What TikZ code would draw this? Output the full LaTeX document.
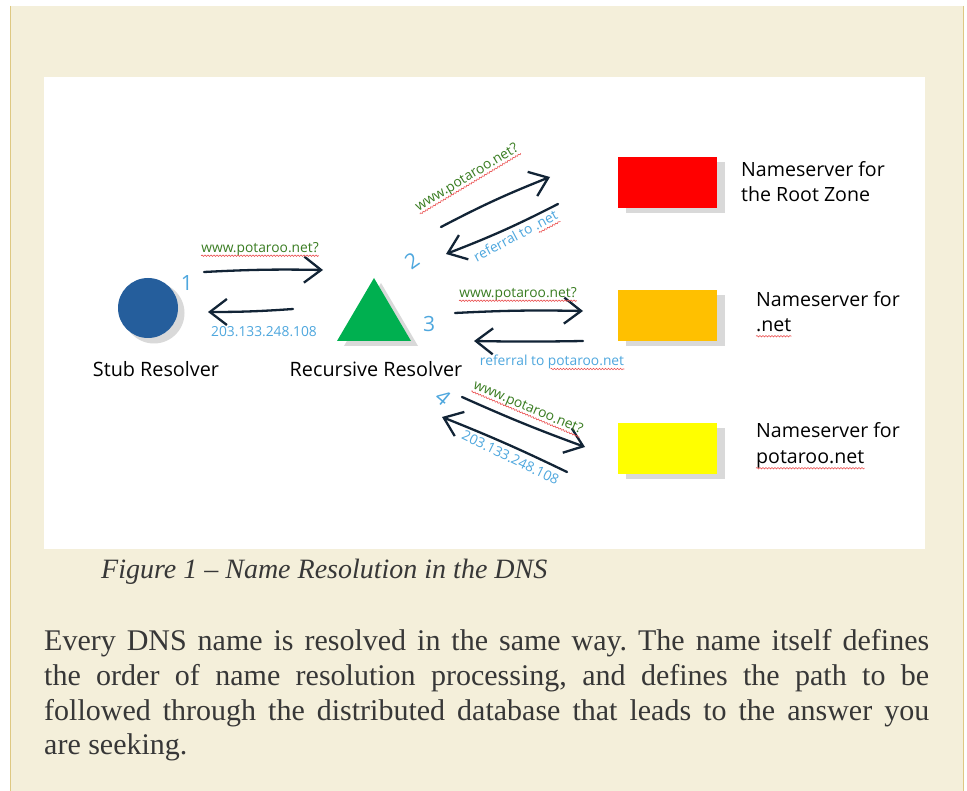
\documentclass[tikz,border=0pt]{standalone}
\usepackage{fontspec}
\usetikzlibrary{arrows.meta,decorations.pathmorphing,calc}
\setmainfont{Liberation Serif}
\newfontfamily\dsans{Open Sans}
\frenchspacing
\definecolor{beige}{RGB}{244,239,218}
\definecolor{goldline}{RGB}{222,200,130}
\definecolor{circblue}{RGB}{37,94,156}
\definecolor{trigreen}{RGB}{0,176,80}
\definecolor{boxred}{RGB}{255,0,0}
\definecolor{boxorange}{RGB}{255,192,0}
\definecolor{boxyellow}{RGB}{255,255,0}
\definecolor{shadowgrey}{RGB}{217,217,217}
\definecolor{arrowc}{RGB}{18,36,54}
\definecolor{qgreen}{RGB}{58,125,34}
\definecolor{ablue}{RGB}{78,167,222}
\definecolor{squigc}{RGB}{235,80,80}
\definecolor{bodytext}{RGB}{55,55,55}
\tikzset{
  harrow/.style={draw=arrowc, line width=2.3pt, line cap=round,
    -{Straight Barb[length=17pt,width=26pt,line width=2.3pt]}},
  qlabel/.style={font=\dsans\fontsize{13.8}{15}\selectfont, text=qgreen, inner sep=0pt, text depth=3pt},
  alabel/.style={font=\dsans\fontsize{13.8}{15}\selectfont, text=ablue, inner sep=0pt, text depth=3pt},
  digit/.style={font=\dsans\fontsize{21}{24}\selectfont, text=ablue, inner sep=0pt},
  rolelabel/.style={font=\dsans\fontsize{19.6}{25}\selectfont, text=black, inner sep=0pt, anchor=base west, text depth=4pt},
  nodelabel/.style={font=\dsans\fontsize{19.8}{24}\selectfont, text=black, inner sep=0pt},
  nsbox/.style={minimum width=99pt, minimum height=51pt, inner sep=0pt, draw=none},
  squig/.style={draw=squigc, line width=0.6pt, decorate, decoration={snake, segment length=3pt, amplitude=0.7pt}},
  bodyline/.style={font=\fontsize{30}{35}\selectfont, text=bodytext, inner sep=0pt, anchor=base west}
}
\begin{document}
\begin{tikzpicture}[x=1pt,y=-1pt]
\useasboundingbox (0,0) rectangle (967,791);
% page background
\fill[beige] (10,6) rectangle (964,791);
\draw[goldline, line width=1.5pt] (10.5,6) -- (10.5,791);
\draw[goldline, line width=1.5pt] (963.5,6) -- (963.5,791);
\fill[white] (44,77) rectangle (925,549);

% stub resolver
\fill[shadowgrey] (154,313) circle (30.5);
\node[circle, fill=circblue, minimum size=60pt, inner sep=0pt] (stub) at (148,308) {};
\node[nodelabel] (stublbl) at (156,369) {Stub Resolver};
\node[digit] (d1) at (187,283) {1};

% recursive resolver
\fill[shadowgrey] (381,283) -- (418,346) -- (344,346) -- cycle;
\fill[trigreen] (374,278) -- (411,341) -- (337,341) -- cycle;
\coordinate (rec) at (374,320);
\node[nodelabel] (reclbl) at (376,369) {Recursive Resolver};

% name servers
\fill[shadowgrey] (626,162) rectangle (725,213);
\node[nsbox, fill=boxred, anchor=north west] (root) at (618,157) {};
\fill[shadowgrey] (626,295) rectangle (725,346);
\node[nsbox, fill=boxorange, anchor=north west] (net) at (618,290) {};
\fill[shadowgrey] (626,428) rectangle (725,479);
\node[nsbox, fill=boxyellow, anchor=north west] (pot) at (618,423) {};

\node[rolelabel] (rootl1) at (741,177) {Nameserver for};
\node[rolelabel] (rootl2) at (741,202) {the Root Zone};
\node[rolelabel] (netl1) at (756,307) {Nameserver for};
\node[rolelabel] (netl2) at (756,332) {.net};
\node[rolelabel] (potl1) at (756,438) {Nameserver for};
\node[rolelabel] (potl2) at (756,464) {potaroo.net};
\draw[squig] (netl2.south west) -- (netl2.south east);
\draw[squig] (potl2.south west) -- (potl2.south east);

% arrow 1
\coordinate (a1s) at (204,272); \coordinate (a1e) at (323,270);
\coordinate (b1s) at (293,309); \coordinate (b1e) at (208,312);
\draw[harrow] (a1s) to[bend left=2] (a1e);
\draw[harrow] (b1s) to[bend left=2] (b1e);
\node[qlabel] (q1) at (260,249) {www.potaroo.net?};
\draw[squig] (q1.south west) -- (q1.south east);
\node[alabel] (r1) at (264,333) {203.133.248.108};

% arrow 2
\coordinate (a2s) at (441,227); \coordinate (a2e) at (550,177);
\coordinate (b2s) at (558,204); \coordinate (b2e) at (446,254);
\draw[harrow] (a2s) to[bend left=3] (a2e);
\draw[harrow] (b2s) to[bend left=3] (b2e);
\node[qlabel, rotate=31] (q2) at (467,178) {www.potaroo.net?};
\draw[squig] (q2.south west) -- (q2.south east);
\node[alabel, rotate=28] (r2) at (516,237) {referral to .net};
\draw[squig] ($(r2.south west)!0.74!(r2.south east)$) -- (r2.south east);
\node[digit, rotate=35] (d2) at (412,261) {2};

% arrow 3
\coordinate (a3s) at (455,313); \coordinate (a3e) at (583,311);
\coordinate (b3s) at (583,341); \coordinate (b3e) at (474,341);
\draw[harrow] (a3s) to[bend left=2] (a3e);
\draw[harrow] (b3s) to[bend left=1] (b3e);
\node[qlabel] (q3) at (518,294) {www.potaroo.net?};
\draw[squig] (q3.south west) -- (q3.south east);
\node[alabel] (r3) at (552,362) {referral to potaroo.net};
\draw[squig] ($(r3.south west)!0.49!(r3.south east)$) -- (r3.south east);
\node[digit] (d3) at (429,324) {3};

% arrow 4
\coordinate (a4s) at (462,397); \coordinate (a4e) at (585,447);
\coordinate (b4s) at (567,472); \coordinate (b4e) at (442,417);
\draw[harrow] (a4s) to[bend right=2] (a4e);
\draw[harrow] (b4s) to[bend right=2] (b4e);
\node[qlabel, rotate=-23] (q4) at (528,408) {www.potaroo.net?};
\draw[squig] (q4.south west) -- (q4.south east);
\node[alabel, rotate=-26] (r4) at (510,459) {203.133.248.108};
\node[digit, rotate=-40] (d4) at (443,398) {4};

% caption
\node[font=\fontsize{28}{31}\selectfont\itshape, text=bodytext, inner sep=0pt, anchor=base west] (cap) at (101,578) {Figure 1 -- Name Resolution in the DNS};

% body text
\node[bodyline] (l1) at (44,650) {\makebox[885pt][s]{Every DNS name is resolved in the same way. The name itself defines}};
\node[bodyline] (l2) at (44,685) {\makebox[885pt][s]{the order of name resolution processing, and defines the path to be}};
\node[bodyline] (l3) at (44,720) {\makebox[885pt][s]{followed through the distributed database that leads to the answer you}};
\node[bodyline] (l4) at (44,754) {are seeking.};
\end{tikzpicture}
\end{document}
